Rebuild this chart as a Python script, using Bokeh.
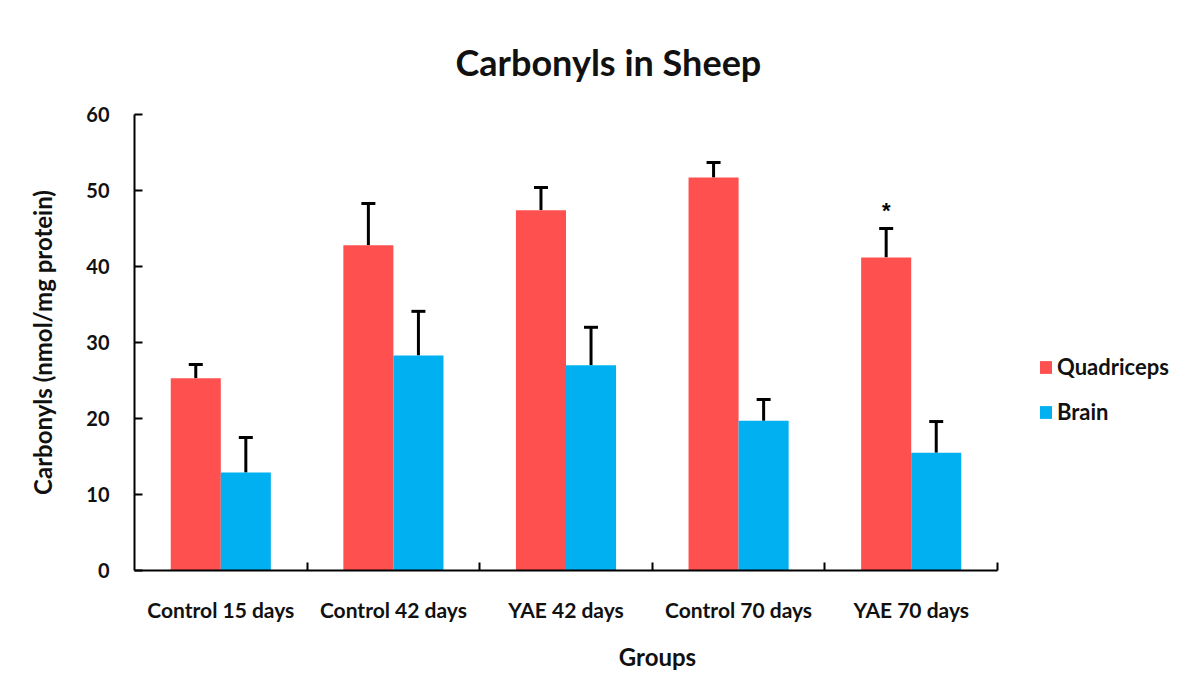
import numpy as np
from bokeh.plotting import figure
from bokeh.models import (ColumnDataSource, Whisker, TeeHead, FixedTicker,
                          Legend, LegendItem)
from bokeh.embed import file_html
from bokeh.resources import INLINE

groups = ["Control 15 days", "Control 42 days", "YAE 42 days", "Control 70 days", "YAE 70 days"]
quadriceps = [25.3, 42.8, 47.4, 51.7, 41.2]
quadriceps_err = [1.8, 5.5, 3.0, 2.0, 3.8]
brain = [12.9, 28.3, 27.0, 19.7, 15.5]
brain_err = [4.6, 5.8, 5.0, 2.8, 4.1]
significance = ["", "", "", "", "*"]
y_ticks = [0, 10, 20, 30, 40, 50, 60]

RED = "#FF5050"
BLUE = "#00B0F0"
BAR_W = 0.29
FONT = "Lato"
TXT = "#111111"

# layout (screen px)
FRAME_L, AXIS_R, FRAME_R = 134, 997, 1180
n = len(groups)
x_end = n * (FRAME_R - FRAME_L) / (AXIS_R - FRAME_L)

centers = np.arange(n) + 0.5
q_x = centers - BAR_W / 2
b_x = centers + BAR_W / 2

src_q = ColumnDataSource(dict(x=q_x, top=quadriceps,
                              upper=np.array(quadriceps) + np.array(quadriceps_err),
                              sig=significance))
src_b = ColumnDataSource(dict(x=b_x, top=brain,
                              upper=np.array(brain) + np.array(brain_err)))

p = figure(width=1189, height=688, output_backend="svg", toolbar_location=None,
           x_range=(0, x_end), y_range=(0, 60),
           min_border_left=FRAME_L, min_border_right=1189 - FRAME_R, min_border_top=114,
           min_border_bottom=118)
p.outline_line_color = None
p.grid.visible = False

rq = p.vbar(x="x", top="top", width=BAR_W, source=src_q, fill_color=RED, line_color=None)
rb = p.vbar(x="x", top="top", width=BAR_W, source=src_b, fill_color=BLUE, line_color=None)

for src in (src_q, src_b):
    w = Whisker(source=src, base="x", lower="top", upper="upper", dimension="height",
                line_width=3, line_color="black",
                upper_head=TeeHead(size=14, line_width=3, line_color="black"),
                lower_head=None)
    p.add_layout(w)

p.text(x="x", y="upper", text="sig", source=src_q, text_align="center",
       text_baseline="bottom", y_offset=-6, text_font_size="22px",
       text_font_style="bold", text_color="black")

# y axis
p.yaxis.ticker = FixedTicker(ticks=y_ticks)
p.yaxis.major_tick_in = 8
p.yaxis.major_tick_out = 0
p.yaxis.minor_tick_line_color = None
p.yaxis.axis_line_width = 2
p.yaxis.major_tick_line_width = 2
p.yaxis.major_label_text_font = FONT
p.yaxis.major_label_text_font_style = "bold"
p.yaxis.major_label_text_font_size = "20px"
p.yaxis.major_label_text_color = TXT
p.yaxis.major_label_standoff = 25
p.yaxis.axis_label = "Carbonyls (nmol/mg protein)"
p.yaxis.axis_label_text_font = FONT
p.yaxis.axis_label_text_font_style = "bold"
p.yaxis.axis_label_text_font_size = "24px"
p.yaxis.axis_label_text_color = TXT
p.yaxis.axis_label_standoff = 26

# x axis
p.xaxis.bounds = (0, n)
p.xaxis.ticker = FixedTicker(ticks=list(centers), minor_ticks=list(range(1, n + 1)))
p.xaxis.major_label_overrides = {float(c): g for c, g in zip(centers, groups)}
p.xaxis.major_tick_line_color = None
p.xaxis.minor_tick_in = 8
p.xaxis.minor_tick_out = 0
p.xaxis.minor_tick_line_width = 2
p.xaxis.axis_line_width = 2
p.xaxis.major_label_text_font = FONT
p.xaxis.major_label_text_font_style = "bold"
p.xaxis.major_label_text_font_size = "21px"
p.xaxis.major_label_text_color = TXT
p.xaxis.major_label_standoff = 20
p.xaxis.axis_label = "Groups"
p.xaxis.axis_label_text_font = FONT
p.xaxis.axis_label_text_font_style = "bold"
p.xaxis.axis_label_text_font_size = "24px"
p.xaxis.axis_label_text_color = TXT
p.xaxis.axis_label_standoff = 17

p.title.text = "Carbonyls in Sheep"
p.title.align = "left"
p.title.offset = 321
p.title.text_font = FONT
p.title.text_font_style = "bold"
p.title.text_font_size = "36px"
p.title.text_color = TXT
p.title.standoff = 61

legend = Legend(items=[LegendItem(label="Quadriceps", renderers=[rq]),
                       LegendItem(label="Brain", renderers=[rb])],
                location=(904, 145), glyph_width=15, glyph_height=16,
                spacing=18, padding=0, margin=0, label_standoff=4,
                label_text_font=FONT, label_text_font_style="bold",
                label_text_font_size="22px", label_text_color=TXT,
                border_line_color=None, background_fill_alpha=0)
p.add_layout(legend)

open("out.html", "w").write(file_html(p, INLINE))
